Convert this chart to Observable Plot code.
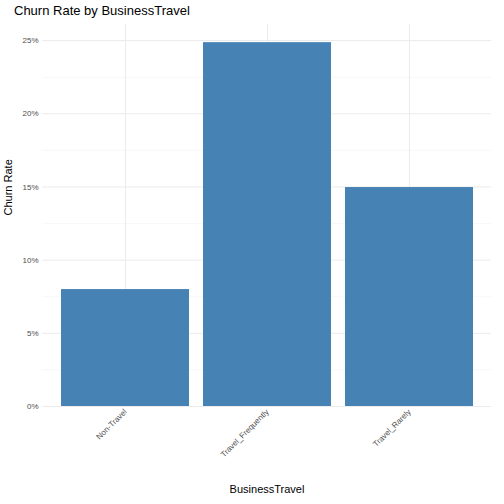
<!DOCTYPE html>
<html>
<head>
<meta charset="utf-8">
<script src="https://cdn.jsdelivr.net/npm/d3@7"></script>
<script src="https://cdn.jsdelivr.net/npm/@observablehq/plot@0.6"></script>
<style>
  body { margin: 0; font-family: "Liberation Sans", "DejaVu Sans", sans-serif; background: #fff; }
  .title { height: 22px; padding-left: 14px; font-size: 13px; line-height: 22px; color: #000; }
</style>
</head>
<body>
<div class="title">Churn Rate by BusinessTravel</div>
<div id="chart"></div>
<script>
const travel = ["Non-Travel", "Travel_Frequently", "Travel_Rarely"];
const churn = [0.0799, 0.2486, 0.1496];
const majorTicks = [0, 0.05, 0.10, 0.15, 0.20, 0.25];
const minorTicks = [0.025, 0.075, 0.125, 0.175, 0.225];

const data = travel.map((t, i) => ({travel: t, churn: churn[i]}));

const plot = Plot.plot({
  width: 504,
  height: 482,
  marginLeft: 42,
  marginRight: 13,
  marginTop: 2,
  marginBottom: 98,
  style: {fontFamily: "Liberation Sans, DejaVu Sans, sans-serif", fontSize: "8px", color: "#4d4d4d"},
  x: {domain: travel, padding: 0.1, paddingOuter: 0.128, label: null},
  y: {domain: [0, 0.261], label: null},
  marks: [
    Plot.ruleY(minorTicks, {stroke: "#f2f2f2", strokeWidth: 0.6}),
    Plot.ruleY(majorTicks, {stroke: "#ebebeb", strokeWidth: 1}),
    Plot.ruleX(travel, {x: d => d, stroke: "#ebebeb", strokeWidth: 1}),
    Plot.barY(data, {x: "travel", y: "churn", fill: "steelblue"}),
    Plot.axisY(majorTicks, {tickSize: 0, tickPadding: 4, tickFormat: d3.format(".0%"), fill: "#4d4d4d", label: null}),
    Plot.axisX({tickSize: 0, tickRotate: -45, tickPadding: 4, fill: "#4d4d4d", label: null, textAnchor: "end"}),
    Plot.text(["BusinessTravel"], {frameAnchor: "bottom", dy: 86, fontSize: 11, fill: "#000"}),
    Plot.text(["Churn Rate"], {frameAnchor: "left", dx: -34, rotate: -90, fontSize: 11, fill: "#000"})
  ]
});
document.getElementById("chart").appendChild(plot);
</script>
</body>
</html>
